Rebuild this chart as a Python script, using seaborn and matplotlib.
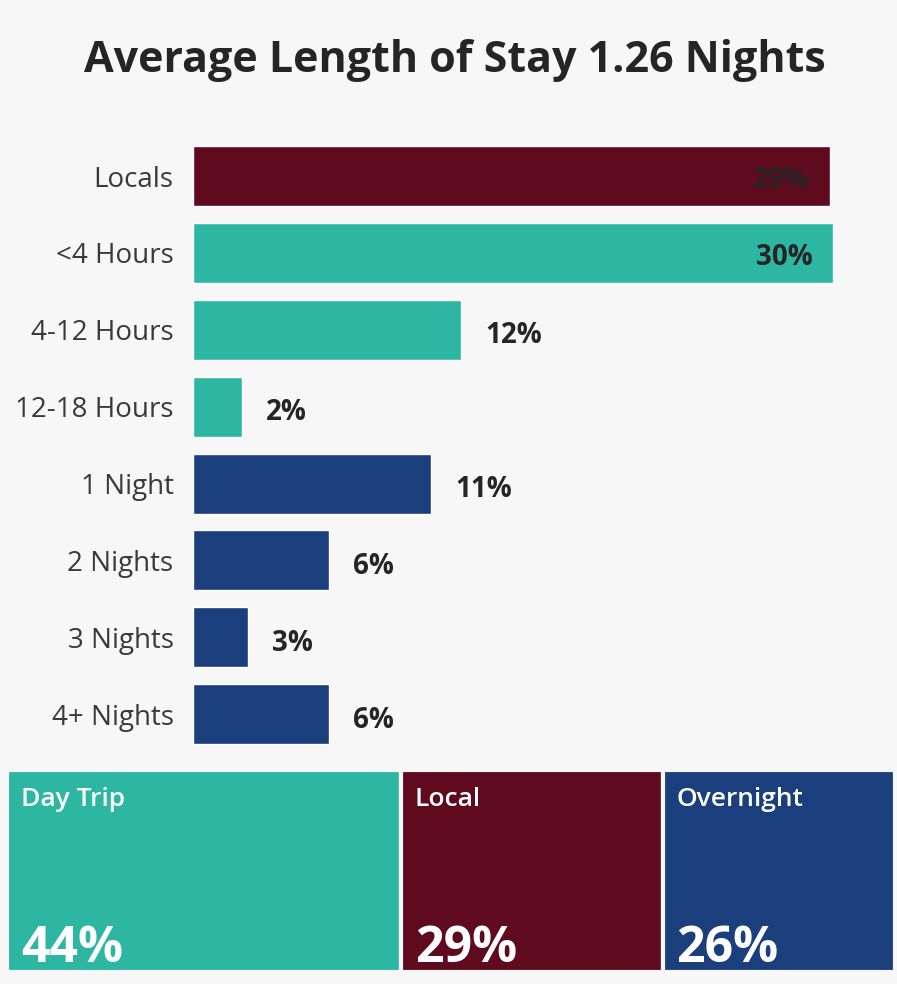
import matplotlib
matplotlib.use("Agg")
import matplotlib.pyplot as plt
import seaborn as sns
import pandas as pd
import numpy as np

# Share of visitors by length of stay (%)
categories = ["Locals", "<4 Hours", "4-12 Hours", "12-18 Hours",
              "1 Night", "2 Nights", "3 Nights", "4+ Nights"]
shares = [29.45, 29.6, 12.4, 2.27, 11.0, 6.29, 2.54, 6.29]
groups = ["Local", "Day Trip", "Day Trip", "Day Trip",
          "Overnight", "Overnight", "Overnight", "Overnight"]
group_order = ["Day Trip", "Local", "Overnight"]
palette = {"Day Trip": "#2DB7A3", "Local": "#5F0A1F", "Overnight": "#1B3E7D"}
title = "Average Length of Stay 1.26 Nights"

W, H = 897, 984
BG = "#F7F7F7"
TEXT = "#252525"

sns.set_theme(style="white")
plt.rcParams["font.family"] = ["Open Sans", "DejaVu Sans"]

df = pd.DataFrame({"category": categories, "share": shares, "group": groups})


def fx(px):
    return px / W


def fy(py):
    return 1 - py / H


fig = plt.figure(figsize=(W / 100, H / 100), dpi=100, facecolor=BG)

fig.text(fx(455), fy(60), title, ha="center", va="center",
         fontsize=31, fontweight="bold", color=TEXT)

# ---- horizontal bar chart ----
ax = fig.add_axes([fx(193), fy(752.6), fx(640), 615 / H])
ax.set_facecolor(BG)
sns.barplot(data=df, y="category", x="share", hue="group", palette=palette,
            order=categories, dodge=False, width=0.78, legend=False,
            saturation=1, ax=ax)
xmax = max(shares)
ax.set_xlim(0, xmax)
ax.set_ylim(len(categories) - 0.5, -0.5)
ax.set_xlabel("")
ax.set_ylabel("")
ax.set_xticks([])
ax.tick_params(axis="y", length=0, pad=14, labelsize=20, labelcolor="#3A3A3A")
sns.despine(ax=ax, left=True, bottom=True)

px_per_unit = 640 / xmax
for i, v in enumerate(shares):
    label = f"{v:.0f}%"
    if v > 20:
        ax.text(v - 20 / px_per_unit, i + 0.06, label, ha="right", va="center",
                fontsize=20, fontweight="bold", color=TEXT, clip_on=False)
    else:
        ax.text(v + 24 / px_per_unit, i + 0.08, label, ha="left", va="center",
                fontsize=20, fontweight="bold", color=TEXT, clip_on=False)

# ---- treemap strip of group totals ----
totals = df.groupby("group")["share"].sum().reindex(group_order)
lefts = np.concatenate([[0], np.cumsum(totals.values)[:-1]])

tx = fig.add_axes([fx(7), fy(972), fx(888), 202 / H])
tx.set_facecolor(BG)
tx.barh([0.5] * len(totals), totals.values, left=lefts, height=1.0,
        color=[palette[g] for g in group_order], edgecolor=BG, linewidth=3)
tx.set_xlim(0, totals.sum())
tx.set_ylim(0, 1)
tx.axis("off")

for left, (name, total) in zip(lefts, totals.items()):
    tx.annotate(name, xy=(left, 1), xycoords="data", xytext=(10, -12),
                textcoords="offset points", ha="left", va="top",
                fontsize=19, fontweight="semibold", color="white")
    tx.annotate(f"{total:.0f}%", xy=(left, 0), xycoords="data", xytext=(10, 7),
                textcoords="offset points", ha="left", va="baseline",
                fontsize=36, fontweight="bold", color="white")

fig.savefig("out.png", dpi=100, facecolor=BG)
